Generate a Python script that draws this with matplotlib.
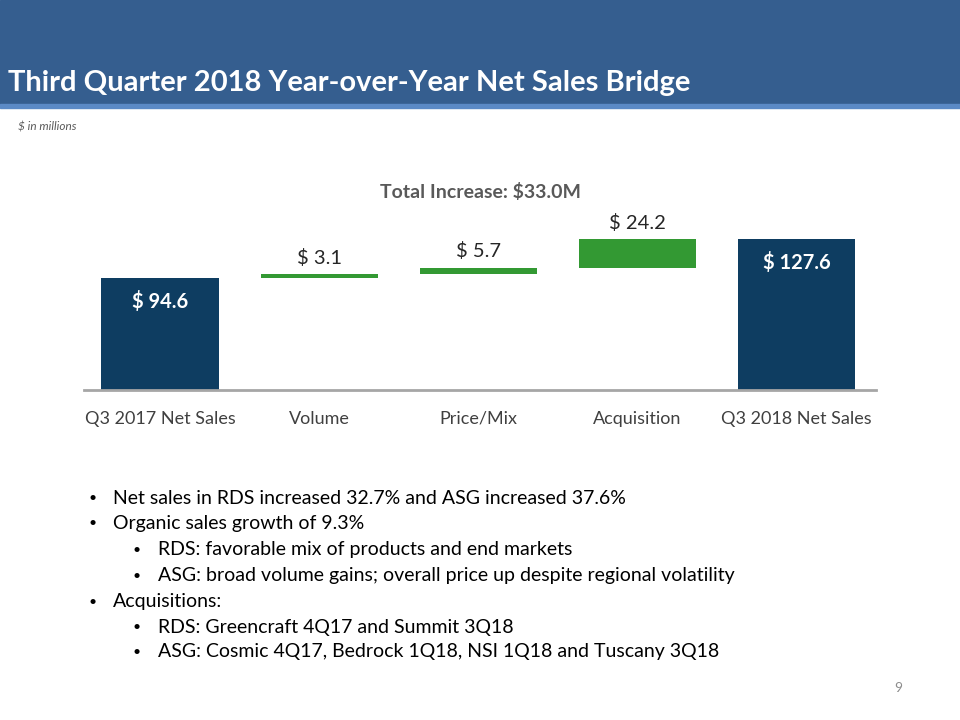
import numpy as np
import matplotlib
matplotlib.use('Agg')
import matplotlib.pyplot as plt
from matplotlib.patches import Rectangle

plt.rcParams['font.family'] = ['Lato', 'DejaVu Sans']

# data ($ in millions)
categories = ['Q3 2017 Net Sales', 'Volume', 'Price/Mix', 'Acquisition', 'Q3 2018 Net Sales']
values = [94.6, 3.1, 5.7, 24.2, 127.6]
is_total = [True, False, False, False, True]
value_labels = ['$ 94.6', '$ 3.1', '$ 5.7', '$ 24.2', '$ 127.6']

bullets = [
    (0, 'Net sales in RDS increased 32.7% and ASG increased 37.6%'),
    (0, 'Organic sales growth of 9.3%'),
    (1, 'RDS: favorable mix of products and end markets'),
    (1, 'ASG: broad volume gains; overall price up despite regional volatility'),
    (0, 'Acquisitions:'),
    (1, 'RDS: Greencraft 4Q17 and Summit 3Q18'),
    (1, 'ASG: Cosmic 4Q17, Bedrock 1Q18, NSI 1Q18 and Tuscany 3Q18'),
]

navy = '#0E3D61'
green = '#339933'
W, H = 960, 720

fig = plt.figure(figsize=(9.6, 7.2), dpi=100)

def fx(px):
    return px / W

def fy(py):
    return 1 - py / H

# header band
fig.patches.append(Rectangle((0, fy(104)), 1, 104 / H, transform=fig.transFigure,
                             color='#355E8F', zorder=0))
fig.patches.append(Rectangle((0, fy(108)), 1, 4 / H, transform=fig.transFigure,
                             color='#5B8AC6', zorder=0))
fig.text(fx(8), fy(91), 'Third Quarter 2018 Year-over-Year Net Sales Bridge',
         color='white', fontsize=21, fontweight='bold', va='baseline', ha='left')
fig.text(fx(18), fy(131), '$ in millions', color='#595959', fontsize=8.5,
         style='italic', va='baseline')

# waterfall
ax = fig.add_axes([fx(84), fy(390), fx(876 - 84), (390 - 170) / H])
x = np.arange(len(categories))
bottoms = []
running = 0.0
for v, tot in zip(values, is_total):
    if tot:
        bottoms.append(0.0)
        running = v
    else:
        bottoms.append(running)
        running += v
colors = [navy if t else green for t in is_total]
ax.bar(x, values, bottom=bottoms, width=0.74, color=colors, zorder=2)

scale = 220 / 1.184
ax.set_ylim(0, scale)
ax.set_xlim(-0.48, 4.5)

for i, (v, b, t, lab) in enumerate(zip(values, bottoms, is_total, value_labels)):
    if t:
        ax.text(i, b + v - 20, lab, ha='center', va='center', color='white',
                fontsize=14.5, fontweight='bold')
    else:
        ax.text(i, b + v + 6, lab, ha='center', va='bottom', color='#262626',
                fontsize=14.5)

ax.text(0.5, (390 - 192) / 220, 'Total Increase: $33.0M', transform=ax.transAxes,
        ha='center', va='center', fontsize=14, fontweight='bold', color='#595959')

for s in ['top', 'right', 'left']:
    ax.spines[s].set_visible(False)
ax.spines['bottom'].set_color('#A6A6A6')
ax.spines['bottom'].set_linewidth(2)
ax.set_yticks([])
ax.set_xticks(x)
ax.set_xticklabels(categories, fontsize=13, color='#404040')
ax.tick_params(axis='x', length=0, pad=15)

# bullets
ys = [498, 523, 550, 576, 602, 627, 652]
for (lvl, txt), yy in zip(bullets, ys):
    bx = 88 if lvl == 0 else 133
    fig.text(fx(bx), fy(yy), '\u2022', fontsize=10, va='center', color='black')
    fig.text(fx(bx + 25), fy(yy), txt, fontsize=14, va='center', color='black')

fig.text(fx(898), fy(688), '9', fontsize=10, color='#8C8C8C', ha='center', va='center')

fig.savefig('out.png', dpi=100)
